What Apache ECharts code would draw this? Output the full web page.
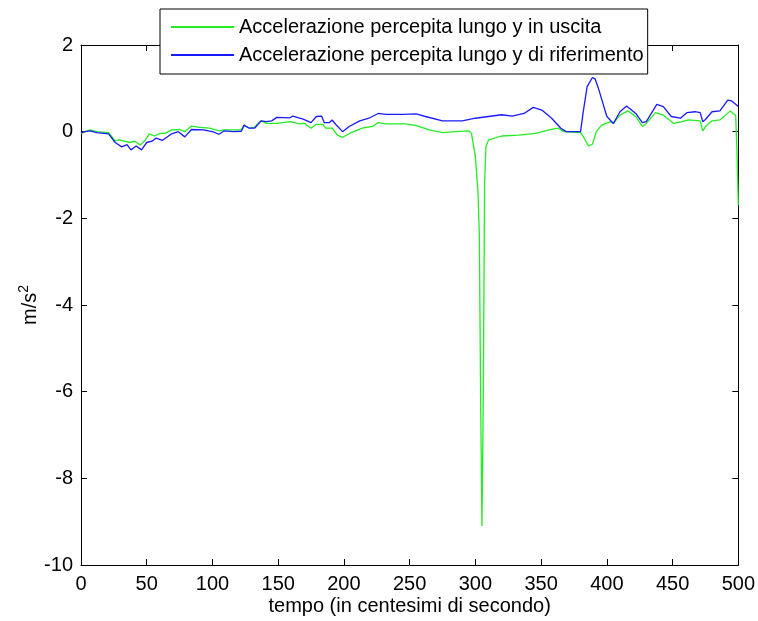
<!DOCTYPE html>
<html>
<head>
<meta charset="utf-8">
<script src="https://cdn.jsdelivr.net/npm/echarts@6/dist/echarts.min.js"></script>
<style>html,body{margin:0;padding:0;background:#fff;}#c{width:758px;height:621px;}</style>
</head>
<body>
<div id="c"></div>
<script>
const seriesNames = ['Accelerazione percepita lungo y in uscita', 'Accelerazione percepita lungo y di riferimento'];
const xTicks = [0, 50, 100, 150, 200, 250, 300, 350, 400, 450, 500];
const yTicks = [-10, -8, -6, -4, -2, 0, 2];

const greenT = [0,3,7,12,21,26,29,33,37,41,45,49,52,56,60,64,69,75,79,84,90,98,105,109,116,122,124,128,132,137,141,149,159,166,170,175,179,184,186,191,195,199,205,214,222,226,232,247,255,265,275,285,295,297,300,302,303,304,305,306,307,308,310,320,333,346,356,363,367,380,382,386,389,392,396,403,405,410,416,422,427,430,437,443,451,457,462,471,473,476,480,486,494,496,498,499,500];
const greenV = [-0.04,0.0,0.04,0.0,-0.02,-0.21,-0.19,-0.22,-0.25,-0.22,-0.31,-0.19,-0.05,-0.10,-0.04,-0.04,0.04,0.05,0.00,0.13,0.10,0.08,0.02,0.04,0.04,0.04,0.15,0.08,0.10,0.25,0.19,0.19,0.23,0.18,0.19,0.08,0.17,0.17,0.08,0.08,-0.08,-0.13,-0.03,0.08,0.12,0.21,0.18,0.18,0.14,0.04,-0.02,0.00,0.02,-0.04,-0.58,-1.40,-2.40,-6.20,-9.10,-6.20,-1.20,-0.35,-0.19,-0.10,-0.08,-0.04,0.04,0.08,0.00,-0.02,-0.11,-0.33,-0.29,0.00,0.15,0.23,0.19,0.38,0.48,0.35,0.12,0.19,0.44,0.38,0.19,0.23,0.27,0.25,0.02,0.15,0.25,0.27,0.48,0.42,0.38,-0.50,-1.70];

const blueT = [0,3,7,12,21,26,31,35,38,42,46,50,54,57,62,69,74,79,84,93,100,105,109,116,122,124,128,132,137,141,145,149,159,161,169,175,179,183,185,189,191,194,199,204,212,219,226,232,245,255,262,275,290,300,310,320,328,337,344,351,358,365,369,380,382,385,389,391,394,400,405,410,415,422,427,430,438,443,449,456,461,467,471,473,475,480,486,492,495,500];
const blueV = [-0.03,0.0,0.02,-0.02,-0.05,-0.25,-0.35,-0.30,-0.42,-0.33,-0.42,-0.25,-0.22,-0.15,-0.20,-0.05,0.00,-0.12,0.05,0.04,0.00,-0.06,0.02,0.00,0.01,0.15,0.08,0.08,0.25,0.23,0.25,0.33,0.32,0.36,0.29,0.21,0.35,0.36,0.21,0.21,0.27,0.16,0.00,0.12,0.25,0.31,0.42,0.40,0.40,0.41,0.35,0.25,0.25,0.31,0.35,0.39,0.36,0.42,0.56,0.49,0.31,0.08,0.00,0.00,0.45,1.04,1.25,1.22,0.96,0.35,0.19,0.46,0.59,0.42,0.21,0.23,0.63,0.58,0.35,0.31,0.44,0.46,0.44,0.23,0.28,0.46,0.48,0.73,0.71,0.58];

const zip = (t, v) => t.map((x, i) => [x, v[i]]);
const FONT = 'Liberation Sans';
const labelStyle = { color: '#000', fontFamily: FONT, fontSize: 20 };

const chart = echarts.init(document.getElementById('c'), null, { renderer: 'canvas' });
const baseX = {
  type: 'value', min: 0, max: 500, interval: 50,
  axisLine: { show: true, onZero: false, lineStyle: { color: '#000', width: 1 } },
  axisTick: { show: true, inside: true, length: 6, lineStyle: { color: '#000' } },
  splitLine: { show: false }
};
const baseY = {
  type: 'value', min: -10, max: 2, interval: 2,
  axisLine: { show: true, onZero: false, lineStyle: { color: '#000', width: 1 } },
  axisTick: { show: true, inside: true, length: 6, lineStyle: { color: '#000' } },
  splitLine: { show: false }
};
chart.setOption({
  animation: false,
  backgroundColor: '#fff',
  grid: { left: 81, right: 18, top: 45, bottom: 56, containLabel: false },
  legend: {
    left: 160, top: 9, orient: 'vertical',
    data: seriesNames,
    icon: 'rect', itemWidth: 63, itemHeight: 2, itemGap: 8,
    padding: [8, 4, 9, 11],
    borderColor: '#000', borderWidth: 1, backgroundColor: '#fff',
    textStyle: { color: '#000', fontFamily: FONT, fontSize: 20, lineHeight: 20 },
    z: 10
  },
  xAxis: [
    Object.assign({}, baseX, {
      position: 'bottom',
      axisLabel: Object.assign({ margin: 9 }, labelStyle),
      name: 'tempo (in centesimi di secondo)', nameLocation: 'middle', nameGap: 31,
      nameMoveOverlap: false,
      nameTextStyle: { color: '#000', fontFamily: FONT, fontSize: 20 }
    }),
    Object.assign({}, baseX, { position: 'top', axisLabel: { show: false } })
  ],
  yAxis: [
    Object.assign({}, baseY, {
      position: 'left',
      axisLabel: Object.assign({ margin: 8 }, labelStyle),
      name: '{a|m/s}{b|2}', nameLocation: 'middle', nameGap: 41, nameRotate: 90,
      nameMoveOverlap: false,
      nameTextStyle: {
        color: '#000', fontFamily: FONT, fontSize: 20,
        rich: {
          a: { color: '#000', fontFamily: FONT, fontSize: 20, verticalAlign: 'bottom' },
          b: { color: '#000', fontFamily: FONT, fontSize: 14, verticalAlign: 'bottom', padding: [0, 0, 9, 0] }
        }
      }
    }),
    Object.assign({}, baseY, { position: 'right', axisLabel: { show: false } })
  ],
  series: [
    { name: seriesNames[0], type: 'line', data: zip(greenT, greenV), showSymbol: false, symbol: 'none',
      lineStyle: { color: '#22ee22', width: 1.3 }, itemStyle: { color: '#22ee22' }, z: 2 },
    { name: seriesNames[1], type: 'line', data: zip(blueT, blueV), showSymbol: false, symbol: 'none',
      lineStyle: { color: '#1a1aff', width: 1.3 }, itemStyle: { color: '#1a1aff' }, z: 3 }
  ]
});
</script>
</body>
</html>
